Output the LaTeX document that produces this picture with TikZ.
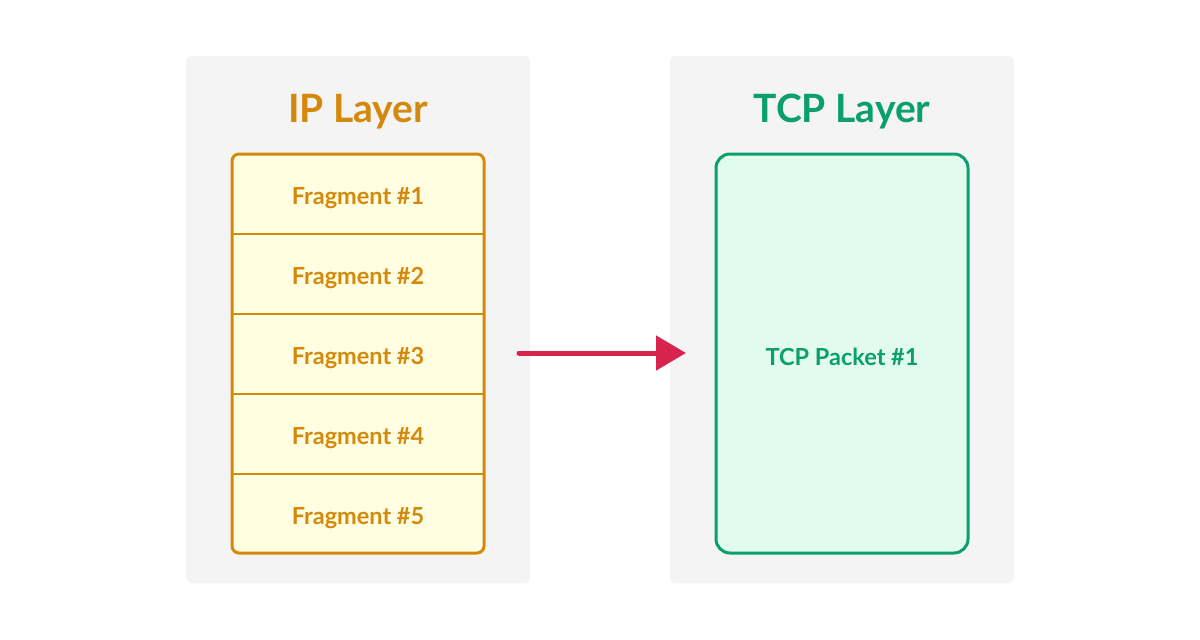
\documentclass[tikz,border=0pt]{standalone}
\usepackage{fontspec}
\setmainfont{Lato}
\usetikzlibrary{arrows.meta}
\definecolor{ipc}{HTML}{D4880C}
\definecolor{ipfill}{HTML}{FFFEE0}
\definecolor{tcpc}{HTML}{0C9F6E}
\definecolor{tcpfill}{HTML}{E1FCEE}
\definecolor{panelc}{HTML}{F4F4F4}
\definecolor{arrowc}{HTML}{D6244F}
\tikzset{
  panel/.style={fill=panelc, draw=none, rounded corners=6pt},
  title/.style={font=\fontsize{39}{44}\selectfont\bfseries},
  fragbox/.style={draw=none, fill=none, minimum width=252pt, minimum height=80pt, inner sep=0pt, text=ipc, font=\fontsize{23.5}{28}\selectfont\bfseries},
  tcpbox/.style={draw=tcpc, line width=3pt, fill=tcpfill, rounded corners=14pt, minimum width=252pt, minimum height=399pt, inner sep=0pt, text=tcpc, font=\fontsize{23.5}{28}\selectfont\bfseries},
  flow/.style={draw=arrowc, line width=5pt, line cap=round, -{Triangle[length=30pt,width=34pt]}}
}
\begin{document}
\begin{tikzpicture}[x=1pt,y=-1pt]
\useasboundingbox (0,0) rectangle (1200,640);
\fill[white] (0,0) rectangle (1200,640);
\node[panel, minimum width=344pt, minimum height=527pt, inner sep=0pt] (lp) at (358,319.5) {};
\node[panel, minimum width=344pt, minimum height=527pt, inner sep=0pt] (rp) at (842,319.5) {};
\node[title, text=ipc] (ipt) at (358,112) {IP Layer};
\node[title, text=tcpc] (tcpt) at (842,112) {TCP Layer};
% fragments
\fill[ipfill, rounded corners=7pt] (232,154) rectangle (484,553);
\node[fragbox] (f1) at (358,198) {Fragment \#1};
\node[fragbox] (f2) at (358,278) {Fragment \#2};
\node[fragbox] (f3) at (358,358) {Fragment \#3};
\node[fragbox] (f4) at (358,438) {Fragment \#4};
\node[fragbox] (f5) at (358,518) {Fragment \#5};
\coordinate (d1l) at (232,234); \coordinate (d1r) at (484,234);
\coordinate (d2l) at (232,314); \coordinate (d2r) at (484,314);
\coordinate (d3l) at (232,394); \coordinate (d3r) at (484,394);
\coordinate (d4l) at (232,474); \coordinate (d4r) at (484,474);
\draw[ipc, line width=2.5pt] (d1l) -- (d1r);
\draw[ipc, line width=2.5pt] (d2l) -- (d2r);
\draw[ipc, line width=2.5pt] (d3l) -- (d3r);
\draw[ipc, line width=2.5pt] (d4l) -- (d4r);
\draw[ipc, line width=3pt, rounded corners=7pt] (232,154) rectangle (484,553);
\node[tcpbox] (tcp) at (842,353.5) {};
\node[text=tcpc, font=\fontsize{23.5}{28}\selectfont\bfseries] (tcpl) at (842,357) {TCP Packet \#1};
\coordinate (as) at (519,353);
\coordinate (ae) at (686,353);
\draw[flow] (as) -- (ae);
\end{tikzpicture}
\end{document}
